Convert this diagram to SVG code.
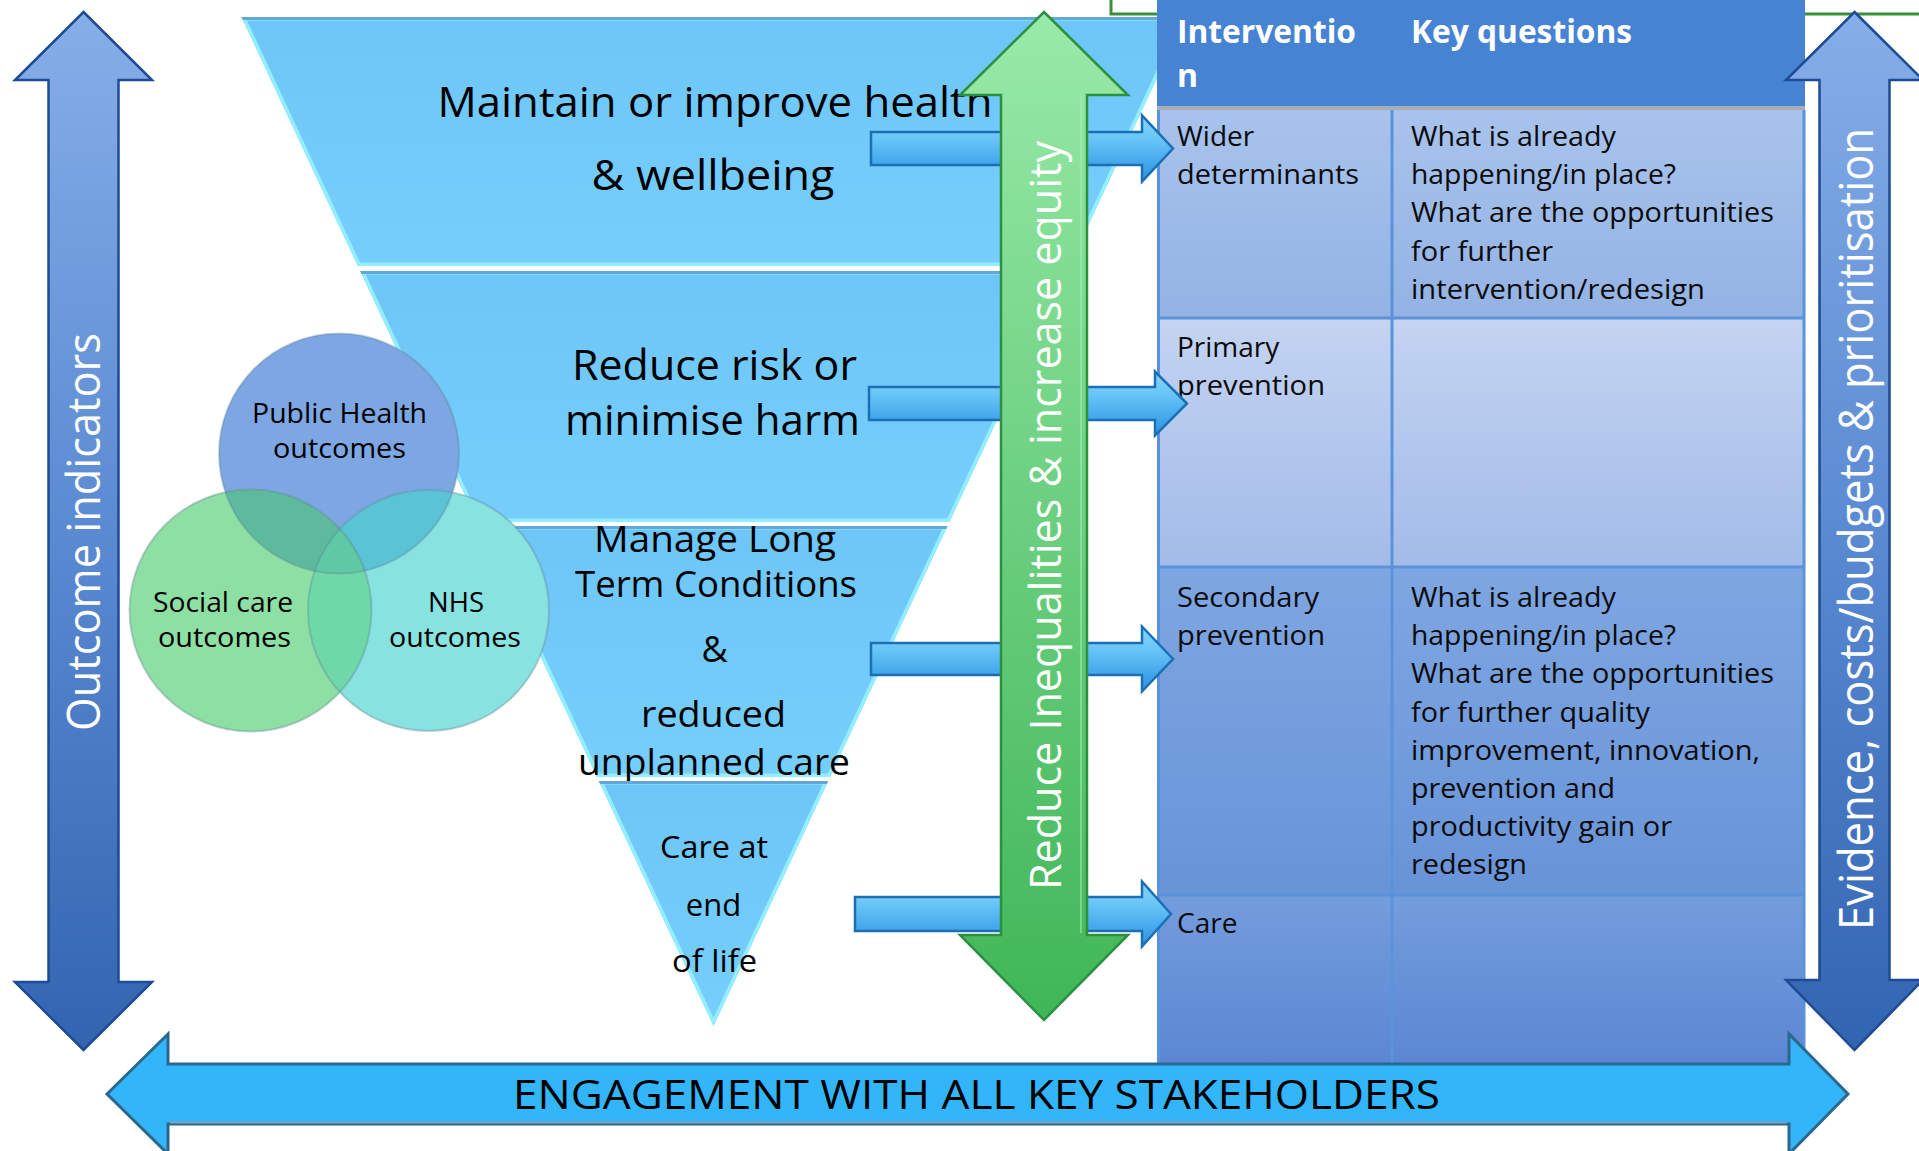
<svg xmlns="http://www.w3.org/2000/svg" width="1919" height="1151" viewBox="0 0 1919 1151">
<defs>
  <style>
    .t{font-family:"Open Sans","Noto Sans","DejaVu Sans",sans-serif;fill:#000}
    .big{font-size:42px;text-anchor:middle}
    .mid{font-size:36px;text-anchor:middle}
    .sml{font-size:31px;text-anchor:middle}
    .vt{font-size:27px;text-anchor:middle}
    .cell{font-size:28px;fill:#0b0b0b}
    .hdr{font-size:32px;font-weight:700;fill:#fff}
    .side{font-size:46px;fill:#fff;text-anchor:middle}
    .eng{font-size:41px;text-anchor:middle}
    .band{fill:url(#gBand)}
    .bevel{fill:none;stroke:#93EEFF;stroke-width:7}
    .bandtop{stroke:#5FA8D8;stroke-width:3}
    .conn{fill:url(#gConn);stroke:#1B6FB5;stroke-width:2.5;stroke-linejoin:miter}
    .grid{stroke:#5B93DB;stroke-width:3;fill:none}
    .rim{fill:none;stroke:#5F7F96;stroke-opacity:.35;stroke-width:2}
  </style>
  <linearGradient id="gBand" x1="0" y1="0" x2="0" y2="1">
    <stop offset="0" stop-color="#6EC6F8"/>
    <stop offset="1" stop-color="#76CEFC"/>
  </linearGradient>
  <linearGradient id="gSide" gradientUnits="userSpaceOnUse" x1="0" y1="12" x2="0" y2="1050">
    <stop offset="0" stop-color="#86AEE8"/>
    <stop offset="0.5" stop-color="#5A8AD2"/>
    <stop offset="1" stop-color="#3364B0"/>
  </linearGradient>
  <linearGradient id="gGreen" gradientUnits="userSpaceOnUse" x1="0" y1="12" x2="0" y2="1020">
    <stop offset="0" stop-color="#98EAA8"/>
    <stop offset="0.5" stop-color="#6BCF7F"/>
    <stop offset="1" stop-color="#40B658"/>
  </linearGradient>
  <linearGradient id="gConn" x1="0" y1="0" x2="0" y2="1">
    <stop offset="0" stop-color="#86D6FB"/>
    <stop offset="0.35" stop-color="#69C5F7"/>
    <stop offset="0.7" stop-color="#45A9EC"/>
    <stop offset="1" stop-color="#3192DC"/>
  </linearGradient>
  <linearGradient id="gR1" x1="0" y1="0" x2="0" y2="1"><stop offset="0" stop-color="#A8C3EC"/><stop offset="1" stop-color="#93B3E4"/></linearGradient>
  <linearGradient id="gR2" x1="0" y1="0" x2="0" y2="1"><stop offset="0" stop-color="#C4D4F2"/><stop offset="1" stop-color="#A2BBE8"/></linearGradient>
  <linearGradient id="gR3" x1="0" y1="0" x2="0" y2="1"><stop offset="0" stop-color="#7EA6E1"/><stop offset="1" stop-color="#6894D8"/></linearGradient>
  <linearGradient id="gR4" x1="0" y1="0" x2="0" y2="1"><stop offset="0" stop-color="#749DDD"/><stop offset="1" stop-color="#5B86D2"/></linearGradient>
  <polygon id="p-b1" points="241.5,17 1185.5,17 1069.2,266 357.8,266"/>
  <polygon id="p-b2" points="360.2,271 1066.8,271 949.4,522 477.6,522"/>
  <polygon id="p-b3" points="479.5,526 947.5,526 830,777 597,777"/>
  <polygon id="p-b4" points="598.8,781 828.2,781 713.5,1026"/>
  <clipPath id="c-b1"><use href="#p-b1"/></clipPath>
  <clipPath id="c-b2"><use href="#p-b2"/></clipPath>
  <clipPath id="c-b3"><use href="#p-b3"/></clipPath>
  <clipPath id="c-b4"><use href="#p-b4"/></clipPath>
  <clipPath id="c-ph"><circle cx="339" cy="453.5" r="120"/></clipPath>
  <clipPath id="c-sc"><circle cx="250.5" cy="610.5" r="121"/></clipPath>
  <clipPath id="c-nhs"><circle cx="428.5" cy="610.5" r="120.5"/></clipPath>
</defs>

<rect x="0" y="0" width="1919" height="1151" fill="#fff"/>

<g id="corner-line">
  <path d="M1111,0 V14 H1919" fill="none" stroke="#3C8D3C" stroke-width="3"/>
</g>

<g id="funnel">
  <g id="band-maintain">
    <use href="#p-b1" class="band"/>
    <use href="#p-b1" class="bevel" clip-path="url(#c-b1)"/>
    <line x1="230" y1="18.5" x2="1200" y2="18.5" class="bandtop" clip-path="url(#c-b1)"/>
    <text class="t big" x="715" y="117" textLength="555" lengthAdjust="spacingAndGlyphs">Maintain or improve health</text>
    <text class="t big" x="713" y="190" textLength="243" lengthAdjust="spacingAndGlyphs">&amp; wellbeing</text>
  </g>
  <g id="band-reduce">
    <use href="#p-b2" class="band"/>
    <use href="#p-b2" class="bevel" clip-path="url(#c-b2)"/>
    <line x1="350" y1="272.5" x2="1080" y2="272.5" class="bandtop" clip-path="url(#c-b2)"/>
    <text class="t big" x="714.5" y="380" textLength="285" lengthAdjust="spacingAndGlyphs">Reduce risk or</text>
    <text class="t big" x="712.5" y="435" textLength="295" lengthAdjust="spacingAndGlyphs">minimise harm</text>
  </g>
  <g id="band-manage">
    <use href="#p-b3" class="band"/>
    <use href="#p-b3" class="bevel" clip-path="url(#c-b3)"/>
    <line x1="470" y1="527.5" x2="960" y2="527.5" class="bandtop" clip-path="url(#c-b3)"/>
    <text class="t mid" x="715" y="552" textLength="242" lengthAdjust="spacingAndGlyphs">Manage Long</text>
    <text class="t mid" x="716" y="597" textLength="282" lengthAdjust="spacingAndGlyphs">Term Conditions</text>
    <text class="t mid" x="714.5" y="662">&amp;</text>
    <text class="t mid" x="713.5" y="727" textLength="145" lengthAdjust="spacingAndGlyphs">reduced</text>
    <text class="t mid" x="714" y="775" textLength="272" lengthAdjust="spacingAndGlyphs">unplanned care</text>
  </g>
  <g id="band-endoflife">
    <use href="#p-b4" class="band"/>
    <use href="#p-b4" class="bevel" clip-path="url(#c-b4)"/>
    <line x1="590" y1="782.5" x2="840" y2="782.5" class="bandtop" clip-path="url(#c-b4)"/>
    <text class="t sml" x="714" y="858" textLength="108" lengthAdjust="spacingAndGlyphs">Care at</text>
    <text class="t sml" x="713.5" y="916">end</text>
    <text class="t sml" x="714.5" y="972" textLength="85" lengthAdjust="spacingAndGlyphs">of life</text>
  </g>
</g>

<g id="venn">
  <g id="venn-public-health">
    <circle cx="339" cy="453.5" r="120" fill="#7CA7E3"/>
    <text class="t vt" x="339.5" y="423" textLength="175" lengthAdjust="spacingAndGlyphs">Public Health</text>
    <text class="t vt" x="339.5" y="458" textLength="133" lengthAdjust="spacingAndGlyphs">outcomes</text>
  </g>
  <g id="venn-social-care">
    <circle cx="250.5" cy="610.5" r="121" fill="#8EDFA3"/>
    <text class="t vt" x="223" y="612" textLength="140" lengthAdjust="spacingAndGlyphs">Social care</text>
    <text class="t vt" x="224.5" y="647" textLength="133" lengthAdjust="spacingAndGlyphs">outcomes</text>
  </g>
  <g id="venn-nhs">
    <circle cx="428.5" cy="610.5" r="120.5" fill="#88E2DF"/>
    <text class="t vt" x="456" y="612" textLength="56" lengthAdjust="spacingAndGlyphs">NHS</text>
    <text class="t vt" x="455" y="647" textLength="132" lengthAdjust="spacingAndGlyphs">outcomes</text>
  </g>
  <g id="venn-overlaps">
    <circle cx="250.5" cy="610.5" r="121" fill="#5EBA9D" clip-path="url(#c-ph)"/>
    <circle cx="428.5" cy="610.5" r="120.5" fill="#5AC3D5" clip-path="url(#c-ph)"/>
    <circle cx="428.5" cy="610.5" r="120.5" fill="#6FD8A9" clip-path="url(#c-sc)"/>
    <g clip-path="url(#c-ph)"><circle cx="428.5" cy="610.5" r="120.5" fill="#5FC9A6" clip-path="url(#c-sc)"/></g>
    <circle cx="339" cy="453.5" r="120" class="rim"/>
    <circle cx="250.5" cy="610.5" r="121" class="rim"/>
    <circle cx="428.5" cy="610.5" r="120.5" class="rim"/>
  </g>
</g>

<g id="table">
  <rect x="1157" y="0" width="648" height="108" fill="#4683D3"/>
  <rect x="1157" y="106" width="648" height="4" fill="#A7AEB8"/>
  <rect x="1157" y="110" width="648" height="208" fill="url(#gR1)"/>
  <rect x="1157" y="318" width="648" height="249" fill="url(#gR2)"/>
  <rect x="1157" y="567" width="648" height="328" fill="url(#gR3)"/>
  <rect x="1157" y="895" width="648" height="170" fill="url(#gR4)"/>
  <path class="grid" d="M1158.5,110 V1065 M1392,110 V1065 M1804,110 V1065 M1157,318 H1805 M1157,567 H1805 M1157,895 H1805"/>
  <g id="table-header">
    <text class="t hdr" x="1177" y="43" textLength="179" lengthAdjust="spacingAndGlyphs">Interventio</text>
    <text class="t hdr" x="1177" y="87">n</text>
    <text class="t hdr" x="1411" y="43" textLength="221" lengthAdjust="spacingAndGlyphs">Key questions</text>
  </g>
  <g id="row-wider">
    <text class="t cell" x="1177" y="146">Wider</text>
    <text class="t cell" x="1177" y="184" textLength="182" lengthAdjust="spacingAndGlyphs">determinants</text>
    <text class="t cell" x="1411" y="146" textLength="205" lengthAdjust="spacingAndGlyphs">What is already</text>
    <text class="t cell" x="1411" y="184" textLength="265" lengthAdjust="spacingAndGlyphs">happening/in place?</text>
    <text class="t cell" x="1411" y="222" textLength="363" lengthAdjust="spacingAndGlyphs">What are the opportunities</text>
    <text class="t cell" x="1411" y="261" textLength="142" lengthAdjust="spacingAndGlyphs">for further</text>
    <text class="t cell" x="1411" y="299" textLength="294" lengthAdjust="spacingAndGlyphs">intervention/redesign</text>
  </g>
  <g id="row-primary">
    <text class="t cell" x="1177" y="357">Primary</text>
    <text class="t cell" x="1177" y="395" textLength="148" lengthAdjust="spacingAndGlyphs">prevention</text>
  </g>
  <g id="row-secondary">
    <text class="t cell" x="1177" y="607" textLength="142" lengthAdjust="spacingAndGlyphs">Secondary</text>
    <text class="t cell" x="1177" y="645" textLength="148" lengthAdjust="spacingAndGlyphs">prevention</text>
    <text class="t cell" x="1411" y="607" textLength="205" lengthAdjust="spacingAndGlyphs">What is already</text>
    <text class="t cell" x="1411" y="645" textLength="265" lengthAdjust="spacingAndGlyphs">happening/in place?</text>
    <text class="t cell" x="1411" y="683" textLength="363" lengthAdjust="spacingAndGlyphs">What are the opportunities</text>
    <text class="t cell" x="1411" y="722" textLength="239" lengthAdjust="spacingAndGlyphs">for further quality</text>
    <text class="t cell" x="1411" y="760" textLength="349" lengthAdjust="spacingAndGlyphs">improvement, innovation,</text>
    <text class="t cell" x="1411" y="798" textLength="204" lengthAdjust="spacingAndGlyphs">prevention and</text>
    <text class="t cell" x="1411" y="836" textLength="261" lengthAdjust="spacingAndGlyphs">productivity gain or</text>
    <text class="t cell" x="1411" y="874" textLength="116" lengthAdjust="spacingAndGlyphs">redesign</text>
  </g>
  <g id="row-care">
    <text class="t cell" x="1177" y="933">Care</text>
  </g>
</g>

<g id="connectors">
  <path class="conn" d="M871,132 H1142 V115.5 L1173,148.5 L1142,181.5 V165 H871 Z"/>
  <path class="conn" d="M869,387 H1155 V371.5 L1187,403.5 L1155,435.5 V420 H869 Z"/>
  <path class="conn" d="M871,643 H1142 V626.5 L1173,659 L1142,691.5 V675 H871 Z"/>
  <path class="conn" d="M855,897 H1142 V881.5 L1171,914 L1142,946.5 V931 H855 Z"/>
</g>

<g id="equity-arrow">
  <path d="M1044,12 L1128,95 L1087,95 L1087,935 L1128,935 L1044,1020 L960,935 L1001,935 L1001,95 L960,95 Z" fill="url(#gGreen)" stroke="#2B9140" stroke-width="2.5"/>
  <line x1="1081" y1="97" x2="1081" y2="933" stroke="#A8EFB6" stroke-opacity=".5" stroke-width="2"/>
  <text class="t side" style="font-size:43px" transform="translate(1061,515.5) rotate(-90)" textLength="749" lengthAdjust="spacingAndGlyphs">Reduce Inequalities &amp; increase equity</text>
</g>

<g id="outcome-arrow">
  <path d="M83.5,12 L152,80 L118.5,80 L118.5,982 L152,982 L83.5,1050 L15,982 L48.5,982 L48.5,80 L15,80 Z" fill="url(#gSide)" stroke="#1D4B94" stroke-width="2.5"/>
  <text class="t side" transform="translate(100,532) rotate(-90)" textLength="398" lengthAdjust="spacingAndGlyphs">Outcome indicators</text>
</g>

<g id="evidence-arrow">
  <path d="M1854.5,12 L1923,80 L1889.5,80 L1889.5,980 L1923,980 L1854.5,1050 L1786,980 L1819.5,980 L1819.5,80 L1786,80 Z" fill="url(#gSide)" stroke="#1D4B94" stroke-width="2.5"/>
  <text class="t side" style="font-size:47px" transform="translate(1873,529) rotate(-90)" textLength="802" lengthAdjust="spacingAndGlyphs">Evidence, costs/budgets &amp; prioritisation</text>
</g>

<g id="engagement-arrow">
  <path d="M107,1094 L168,1034 L168,1064 L1789,1064 L1789,1034 L1848,1094 L1789,1154 L1789,1124 L168,1124 L168,1154 Z" fill="#33B5FA" stroke="#2A6890" stroke-width="3"/>
  <line x1="170" y1="1122.5" x2="1787" y2="1122.5" stroke="#7FA6BE" stroke-width="2"/>
  <text class="t eng" x="976.5" y="1109" textLength="927" lengthAdjust="spacingAndGlyphs">ENGAGEMENT WITH ALL KEY STAKEHOLDERS</text>
</g>
</svg>
